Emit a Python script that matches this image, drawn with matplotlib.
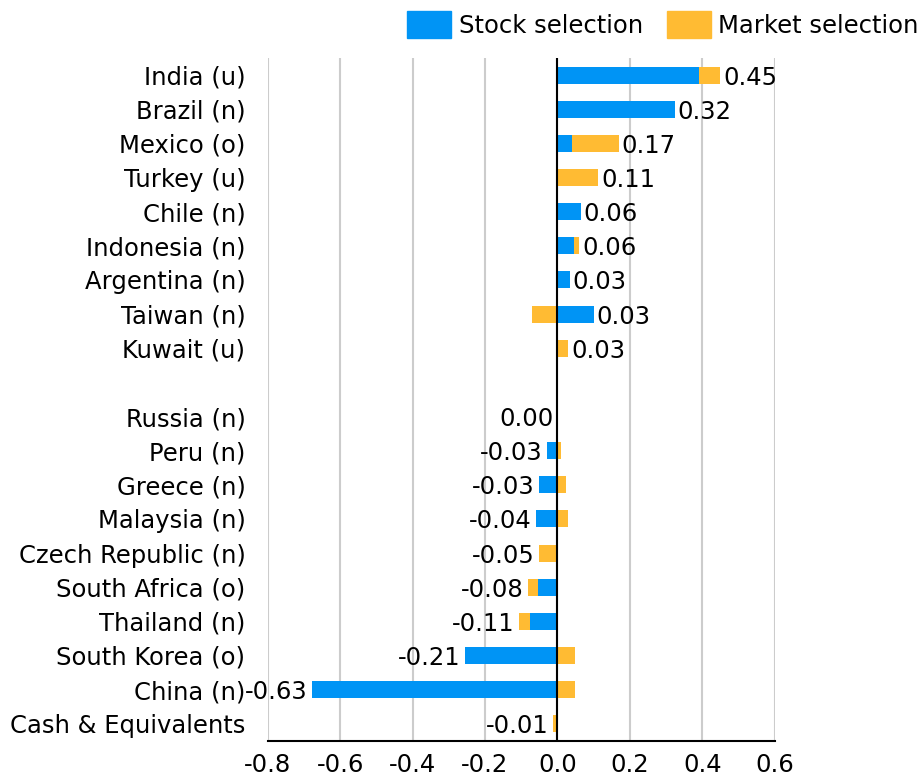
import numpy as np
import matplotlib.pyplot as plt
from matplotlib.patches import Patch

plt.rcParams['axes.unicode_minus'] = False

# rows from top to bottom, empty string is the gap row
countries = ['India (u)', 'Brazil (n)', 'Mexico (o)', 'Turkey (u)', 'Chile (n)',
             'Indonesia (n)', 'Argentina (n)', 'Taiwan (n)', 'Kuwait (u)', '',
             'Russia (n)', 'Peru (n)', 'Greece (n)', 'Malaysia (n)',
             'Czech Republic (n)', 'South Africa (o)', 'Thailand (n)',
             'South Korea (o)', 'China (n)', 'Cash & Equivalents']
stock_sel = [0.39, 0.325, 0.04, 0.0, 0.065, 0.045, 0.034, 0.10, 0.0, np.nan,
             0.0, -0.03, -0.05, -0.06, 0.0, -0.054, -0.077, -0.255, -0.677, 0.0]
market_sel = [0.06, 0.0, 0.13, 0.113, 0.0, 0.015, 0.0, -0.069, 0.03, np.nan,
              0.0, 0.01, 0.023, 0.03, -0.052, -0.028, -0.03, 0.05, 0.05, -0.012]
totals = [0.45, 0.32, 0.17, 0.11, 0.06, 0.06, 0.03, 0.03, 0.03, None,
          0.00, -0.03, -0.03, -0.04, -0.05, -0.08, -0.11, -0.21, -0.63, -0.01]
xticks = [-0.8, -0.6, -0.4, -0.2, 0.0, 0.2, 0.4, 0.6]

blue = '#0094F5'
orange = '#FFBB33'
fs = 17.5

fig = plt.figure(figsize=(9.2, 7.79), dpi=100)
ax = fig.add_axes([0.291, 0.049, 0.551, 0.8765])

n = len(countries)
y = np.arange(n)
s = np.nan_to_num(np.array(stock_sel))
m = np.nan_to_num(np.array(market_sel))

# diverging stack: market starts where stock ends if same sign
m_left = np.where(np.sign(m) == np.sign(s), s, 0.0)
ax.barh(y, s, height=0.5, color=blue, zorder=3)
ax.barh(y, m, left=m_left, height=0.5, color=orange, zorder=3)

pos_end = np.maximum(0, s) + np.maximum(0, m)
neg_end = np.minimum(0, s) + np.minimum(0, m)
for i, t in enumerate(totals):
    if t is None:
        continue
    if t > 0:
        ax.annotate(f'{t:.2f}', (pos_end[i], y[i]), xytext=(2, 0),
                    textcoords='offset points', ha='left', va='center_baseline',
                    fontsize=fs)
    else:
        ax.annotate(f'{t:.2f}', (neg_end[i], y[i]), xytext=(-3, 0),
                    textcoords='offset points', ha='right', va='center_baseline',
                    fontsize=fs)

ax.axvline(0, color='black', lw=1.5, zorder=4)
ax.set_xlim(-0.8, 0.6)
ax.set_ylim(n - 0.5, -0.5)
ax.set_xticks(xticks)
ax.set_xticklabels([f'{v:.1f}' for v in xticks], fontsize=fs)
ax.set_yticks(y)
ax.set_yticklabels(countries, fontsize=fs)
ax.tick_params(axis='y', length=0, pad=16)
ax.tick_params(axis='x', length=0, pad=9)
ax.grid(axis='x', color='#cccccc', lw=1.5, zorder=0)
for side in ['top', 'right', 'left']:
    ax.spines[side].set_visible(False)
ax.spines['bottom'].set_linewidth(1.5)

handles = [Patch(color=blue, label='Stock selection'),
           Patch(color=orange, label='Market selection')]
fig.legend(handles=handles, loc='upper right', bbox_to_anchor=(1.022, 1.014), ncol=2,
           frameon=False, fontsize=fs, handlelength=1.8, handleheight=1.35,
           handletextpad=0.3, columnspacing=1.0)

fig.savefig('out.png', dpi=100)
